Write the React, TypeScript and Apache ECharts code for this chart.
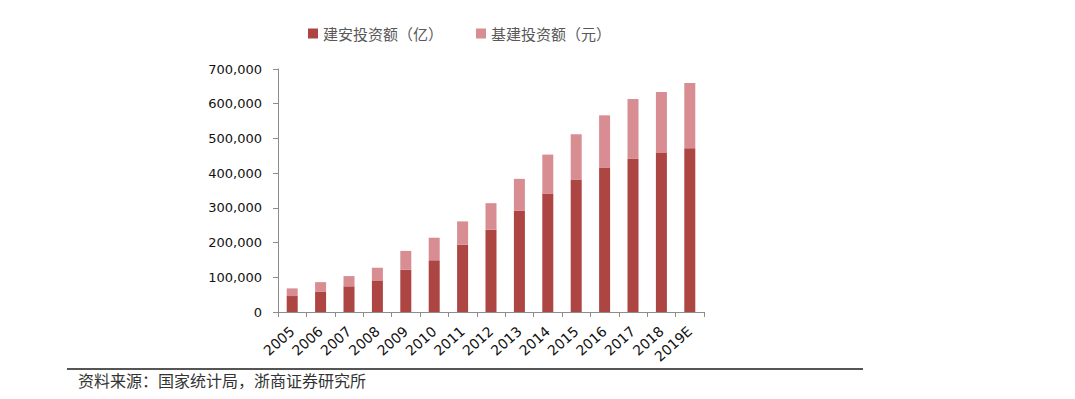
import React, { useEffect, useRef } from "react";
import * as echarts from "echarts";

const categories = ["2005", "2006", "2007", "2008", "2009", "2010", "2011", "2012", "2013", "2014", "2015", "2016", "2017", "2018", "2019E"];
const constructionInvest = [46000, 59000, 74000, 91000, 122000, 149000, 194000, 237000, 291500, 341000, 381500, 416000, 441000, 458000, 472000];
const infraInvest = [22000, 27000, 29500, 36500, 54000, 65000, 67000, 76500, 92000, 112500, 130500, 150500, 172500, 175700, 187600];
const seriesNames = ["建安投资额（亿）", "基建投资额（元）"];
const sourceText = "资料来源：国家统计局，浙商证券研究所";

export default function App() {
  const ref = useRef<HTMLDivElement>(null);
  useEffect(() => {
    if (!ref.current) return;
    const chart = echarts.init(ref.current, null, { renderer: "svg" });
    const cjk = '"Noto Sans CJK SC", "Noto Sans", sans-serif';
    chart.setOption({
      animation: false,
      backgroundColor: "#ffffff",
      legend: {
        left: 303,
        top: 21,
        itemWidth: 10,
        itemHeight: 10,
        itemGap: 33,
        icon: "rect",
        textStyle: { fontFamily: cjk, fontSize: 15, color: "#595959" },
        data: seriesNames,
      },
      grid: { left: 278, right: 371, top: 69, bottom: 87, containLabel: false },
      xAxis: {
        type: "category",
        data: categories,
        boundaryGap: true,
        axisLine: { lineStyle: { color: "#8c8c8c", width: 1 } },
        axisTick: { show: true, length: 5, alignWithLabel: false, lineStyle: { color: "#8c8c8c" } },
        axisLabel: {
          interval: 0,
          rotate: 42,
          margin: 17,
          fontFamily: '"DejaVu Sans", sans-serif',
          fontSize: 14,
          color: "#111",
        },
      },
      yAxis: {
        type: "value",
        min: 0,
        max: 700000,
        interval: 100000,
        splitLine: { show: false },
        axisLine: { show: true, lineStyle: { color: "#8c8c8c", width: 1 } },
        axisTick: { show: true, length: 5, lineStyle: { color: "#8c8c8c" } },
        axisLabel: {
          margin: 16,
          fontFamily: '"DejaVu Sans", sans-serif',
          fontSize: 13,
          color: "#111",
          formatter: (v: number) => v.toLocaleString("en-US"),
        },
      },
      series: [
        {
          name: seriesNames[0],
          type: "bar",
          stack: "total",
          barWidth: 11,
          itemStyle: { color: "#AD4543" },
          data: constructionInvest,
        },
        {
          name: seriesNames[1],
          type: "bar",
          stack: "total",
          barWidth: 11,
          itemStyle: { color: "#D78D91" },
          data: infraInvest,
        },
      ],
      graphic: [
        {
          type: "line",
          shape: { x1: 67, y1: 369, x2: 863, y2: 369 },
          style: { stroke: "#555555", lineWidth: 2 },
        },
        {
          type: "text",
          left: 78,
          top: 372,
          style: { text: sourceText, font: `16px ${cjk}`, fill: "#333333" },
        },
      ],
    });
    return () => chart.dispose();
  }, []);
  return (
    <div
      ref={ref}
      style={{ position: "absolute", left: 0, top: 0, width: 1075, height: 399 }}
    />
  );
}
